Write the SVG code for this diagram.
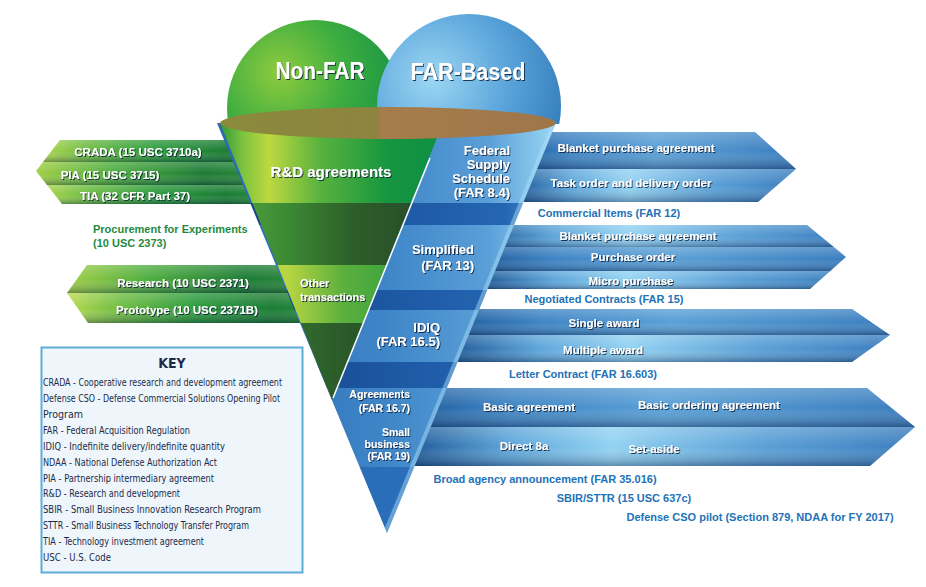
<svg xmlns="http://www.w3.org/2000/svg" width="926" height="587" viewBox="0 0 926 587">
<defs>
<style>
.w{font-family:"Liberation Sans",Arial,sans-serif;font-weight:bold;fill:#fff;filter:url(#sh)}
.bl{font-family:"Liberation Sans",Arial,sans-serif;font-weight:bold;fill:#2272b8;font-size:11px;text-anchor:middle}
.gr{font-family:"Liberation Sans",Arial,sans-serif;font-weight:bold;fill:#1f8a3e;font-size:11px}
.k{font-family:"Liberation Sans Narrow","DejaVu Sans Condensed","Liberation Sans",sans-serif;fill:#1d2a48;font-size:11px}
.kt{font-family:"Liberation Sans Narrow","DejaVu Sans Condensed","Liberation Sans",sans-serif;fill:#1d2a48;font-size:14px;font-weight:bold;text-anchor:middle}
.m{text-anchor:middle}
.e{text-anchor:end}
</style>
<filter id="sh" x="-10%" y="-30%" width="120%" height="160%">
<feDropShadow dx="1" dy="1" stdDeviation="0.7" flood-color="#0b2238" flood-opacity="0.85"/>
</filter>
<radialGradient id="gDome" cx="0.3" cy="0.3" r="0.8">
<stop offset="0" stop-color="#8fcb3e"/><stop offset="0.45" stop-color="#3fae40"/><stop offset="1" stop-color="#0d8c45"/>
</radialGradient>
<radialGradient id="bDome" cx="0.3" cy="0.35" r="0.8">
<stop offset="0" stop-color="#9cd6f3"/><stop offset="0.5" stop-color="#5ca6dc"/><stop offset="1" stop-color="#2f78b8"/>
</radialGradient>
<linearGradient id="disc" x1="0" y1="0" x2="1" y2="0">
<stop offset="0" stop-color="#8a8a3c"/><stop offset="0.47" stop-color="#8e8440"/><stop offset="0.48" stop-color="#a67c4c"/><stop offset="1" stop-color="#9e7648"/>
</linearGradient>
<linearGradient id="gTop" gradientUnits="userSpaceOnUse" x1="220" y1="0" x2="443" y2="0">
<stop offset="0" stop-color="#2f9a3a"/><stop offset="0.1" stop-color="#7cc23e"/><stop offset="0.22" stop-color="#bcd940"/><stop offset="0.45" stop-color="#58b23e"/><stop offset="0.75" stop-color="#169640"/><stop offset="1" stop-color="#0e8f44"/>
</linearGradient>
<linearGradient id="gDark" gradientUnits="userSpaceOnUse" x1="220" y1="0" x2="443" y2="0">
<stop offset="0" stop-color="#56a83e"/><stop offset="0.3" stop-color="#3c8a34"/><stop offset="0.6" stop-color="#2d5e2a"/><stop offset="1" stop-color="#27472a"/>
</linearGradient>
<linearGradient id="gOther" gradientUnits="userSpaceOnUse" x1="220" y1="0" x2="443" y2="0">
<stop offset="0" stop-color="#9cc83e"/><stop offset="0.3" stop-color="#b9d642"/><stop offset="0.55" stop-color="#5cb03e"/><stop offset="1" stop-color="#1e963f"/>
</linearGradient>
<linearGradient id="gTip" gradientUnits="userSpaceOnUse" x1="220" y1="0" x2="443" y2="0">
<stop offset="0" stop-color="#3e8a34"/><stop offset="0.5" stop-color="#2c5e2a"/><stop offset="1" stop-color="#1f4222"/>
</linearGradient>
<linearGradient id="bSec" gradientUnits="userSpaceOnUse" x1="217" y1="0" x2="556" y2="0">
<stop offset="0" stop-color="#2a68b0"/><stop offset="0.5" stop-color="#3f86c8"/><stop offset="0.8" stop-color="#5a9fd8"/><stop offset="1" stop-color="#9ad6f4"/>
</linearGradient>
<linearGradient id="bDark" gradientUnits="userSpaceOnUse" x1="217" y1="0" x2="556" y2="0">
<stop offset="0" stop-color="#163f85"/><stop offset="0.5" stop-color="#1d57a2"/><stop offset="0.85" stop-color="#2566b2"/><stop offset="1" stop-color="#4f94d0"/>
</linearGradient>
<linearGradient id="rUp" x1="0" y1="0" x2="1" y2="0">
<stop offset="0" stop-color="#1f5c9c"/><stop offset="0.2" stop-color="#3e84c4"/><stop offset="0.5" stop-color="#5aa0d6"/><stop offset="1" stop-color="#3a7dbe"/>
</linearGradient>
<linearGradient id="rLow" x1="0" y1="0" x2="1" y2="0">
<stop offset="0" stop-color="#1d5896"/><stop offset="0.2" stop-color="#5ea6da"/><stop offset="0.4" stop-color="#92d2f2"/><stop offset="0.7" stop-color="#5a9fd6"/><stop offset="1" stop-color="#3a7dbe"/>
</linearGradient>
<linearGradient id="gBar" x1="0" y1="0" x2="1" y2="0">
<stop offset="0" stop-color="#c2dd52"/><stop offset="0.25" stop-color="#6cbc42"/><stop offset="0.55" stop-color="#2a9a3c"/><stop offset="0.85" stop-color="#1b7c34"/><stop offset="1" stop-color="#23883a"/>
</linearGradient>
<linearGradient id="gBar2" x1="0" y1="0" x2="1" y2="0">
<stop offset="0" stop-color="#a8d246"/><stop offset="0.35" stop-color="#4fae40"/><stop offset="0.75" stop-color="#1d7c35"/><stop offset="1" stop-color="#2a8a38"/>
</linearGradient>
<linearGradient id="shade" x1="0" y1="0" x2="0" y2="1">
<stop offset="0" stop-color="#fff" stop-opacity="0.22"/><stop offset="0.5" stop-color="#fff" stop-opacity="0"/><stop offset="1" stop-color="#001030" stop-opacity="0.35"/>
</linearGradient>
<clipPath id="cA1"><path d="M440,132 H755 L796,169 L758,202 H440 Z"/></clipPath>
<clipPath id="cA2"><path d="M420,225 H807 L846,257 L810,289 H420 Z"/></clipPath>
<clipPath id="cA3"><path d="M420,309 H852 L890,335 L852,362 H420 Z"/></clipPath>
<clipPath id="cA4"><path d="M390,388 H867 L915,427 L870,466 H390 Z"/></clipPath>
<clipPath id="cL1"><path d="M260,140 H60 L36,171 L62,204 H260 Z"/></clipPath>
<clipPath id="cL2"><path d="M308,265 H87 L67,293 L88,323 H308 Z"/></clipPath>
<clipPath id="cBlue"><polygon points="217,123 556,123 387,533"/></clipPath>
<clipPath id="cGreen"><polygon points="220,123 443,123 332,400"/></clipPath>
<clipPath id="cAbove"><rect x="0" y="0" width="926" height="124"/></clipPath>
</defs>
<rect width="926" height="587" fill="#fff"/>

<g id="connectors">
<g id="arrow-fss" clip-path="url(#cA1)">
<rect x="515" y="132" width="285" height="37" fill="url(#rUp)"/><rect x="515" y="132" width="285" height="37" fill="url(#shade)"/>
<rect x="515" y="169" width="285" height="33" fill="url(#rLow)"/><rect x="515" y="169" width="285" height="33" fill="url(#shade)"/>
</g>
<g id="arrow-simplified" clip-path="url(#cA2)">
<rect x="480" y="225" width="370" height="22" fill="url(#rLow)"/><rect x="480" y="225" width="370" height="22" fill="url(#shade)"/>
<rect x="480" y="247" width="370" height="24" fill="url(#rUp)"/><rect x="480" y="247" width="370" height="24" fill="url(#shade)"/>
<rect x="480" y="271" width="370" height="18" fill="url(#rLow)"/><rect x="480" y="271" width="370" height="18" fill="url(#shade)"/>
</g>
<g id="arrow-idiq" clip-path="url(#cA3)">
<rect x="450" y="309" width="445" height="26" fill="url(#rUp)"/><rect x="450" y="309" width="445" height="26" fill="url(#shade)"/>
<rect x="450" y="335" width="445" height="27" fill="url(#rLow)"/><rect x="450" y="335" width="445" height="27" fill="url(#shade)"/>
</g>
<g id="arrow-agreements" clip-path="url(#cA4)">
<rect x="408" y="388" width="510" height="39" fill="url(#rUp)"/><rect x="408" y="388" width="510" height="39" fill="url(#shade)"/>
<rect x="408" y="427" width="510" height="39" fill="url(#rLow)"/><rect x="408" y="427" width="510" height="39" fill="url(#shade)"/>
</g>
<g id="arrow-rd" clip-path="url(#cL1)">
<rect x="30" y="140" width="230" height="22" fill="url(#gBar)"/><rect x="30" y="140" width="230" height="22" fill="url(#shade)"/>
<rect x="30" y="162" width="230" height="23" fill="url(#gBar2)"/><rect x="30" y="162" width="230" height="23" fill="url(#shade)"/>
<rect x="30" y="185" width="230" height="19" fill="url(#gBar)"/><rect x="30" y="185" width="230" height="19" fill="url(#shade)"/>
</g>
<g id="arrow-ot" clip-path="url(#cL2)">
<rect x="60" y="265" width="248" height="28" fill="url(#gBar2)"/><rect x="60" y="265" width="248" height="28" fill="url(#shade)"/>
<rect x="60" y="293" width="248" height="30" fill="url(#gBar)"/><rect x="60" y="293" width="248" height="30" fill="url(#shade)"/>
</g>
</g>

<g id="domes" clip-path="url(#cAbove)">
<circle id="dome-nonfar" cx="315" cy="108" r="88" fill="url(#gDome)"/>
<circle id="dome-far" cx="469" cy="106" r="92" fill="url(#bDome)"/>
</g>

<g id="funnel-far" clip-path="url(#cBlue)">
<rect x="200" y="100" width="380" height="103" fill="url(#bSec)"/>
<rect x="200" y="203" width="380" height="22" fill="url(#bDark)"/>
<rect x="200" y="225" width="380" height="65" fill="url(#bSec)"/>
<rect x="200" y="290" width="380" height="20" fill="url(#bDark)"/>
<rect x="200" y="310" width="380" height="52" fill="url(#bSec)"/>
<rect x="200" y="362" width="380" height="26" fill="url(#bDark)"/>
<rect x="200" y="388" width="380" height="40" fill="url(#bSec)"/>
<rect x="200" y="428" width="380" height="39" fill="url(#bSec)"/>
<rect x="200" y="467" width="380" height="70" fill="#2a6db8"/>
<line x1="556" y1="123" x2="387" y2="533" stroke="#b0e2f8" stroke-width="8" opacity="0.45"/>
</g>

<g id="funnel-nonfar" clip-path="url(#cGreen)">
<rect x="200" y="100" width="260" height="103" fill="url(#gTop)"/>
<rect x="200" y="203" width="260" height="62" fill="url(#gDark)"/>
<rect x="200" y="265" width="260" height="58" fill="url(#gOther)"/>
<rect x="200" y="323" width="260" height="80" fill="url(#gTip)"/>
</g>
<line x1="430" y1="158" x2="333" y2="398" stroke="#fff" stroke-width="1.5"/>

<ellipse id="rim" cx="388" cy="123" rx="168" ry="16" fill="url(#disc)"/>

<g id="node-nonfar"><text class="w m" x="320" y="79" font-size="23" textLength="89" lengthAdjust="spacingAndGlyphs">Non-FAR</text></g>
<g id="node-farbased"><text class="w m" x="468" y="80" font-size="23" textLength="115" lengthAdjust="spacingAndGlyphs">FAR-Based</text></g>

<g id="node-rd"><text class="w m" x="331" y="177" font-size="15">R&amp;D agreements</text></g>
<g id="node-crada"><text class="w m" x="138" y="156" font-size="11.5">CRADA (15 USC 3710a)</text></g>
<g id="node-pia"><text class="w m" x="110" y="179" font-size="11.5">PIA (15 USC 3715)</text></g>
<g id="node-tia"><text class="w m" x="135" y="200" font-size="11.5">TIA (32 CFR Part 37)</text></g>
<g id="node-procurement"><text class="gr" x="93" y="233">Procurement for Experiments</text><text class="gr" x="93" y="247">(10 USC 2373)</text></g>
<g id="node-ot"><text class="w" x="300" y="287" font-size="11">Other</text><text class="w" x="300" y="301" font-size="11">transactions</text></g>
<g id="node-research"><text class="w m" x="183" y="287" font-size="11.5">Research (10 USC 2371)</text></g>
<g id="node-prototype"><text class="w m" x="187" y="314" font-size="11.5">Prototype (10 USC 2371B)</text></g>

<g id="node-fss"><text class="w e" font-size="13" x="510" y="155">Federal</text><text class="w e" font-size="13" x="510" y="169">Supply</text><text class="w e" font-size="13" x="510" y="183">Schedule</text><text class="w e" font-size="13" x="510" y="197">(FAR 8.4)</text></g>
<g id="node-fss-bpa"><text class="w m" font-size="11.5" x="636" y="152">Blanket purchase agreement</text></g>
<g id="node-fss-task"><text class="w m" font-size="11.5" x="631" y="187">Task order and delivery order</text></g>
<g id="node-commercial"><text class="bl" x="609" y="217">Commercial Items (FAR 12)</text></g>

<g id="node-simplified"><text class="w e" font-size="13" x="474" y="254">Simplified</text><text class="w e" font-size="13" x="474" y="270">(FAR 13)</text></g>
<g id="node-simp-bpa"><text class="w m" font-size="11.5" x="638" y="240">Blanket purchase agreement</text></g>
<g id="node-po"><text class="w m" font-size="11.5" x="633" y="261">Purchase order</text></g>
<g id="node-micro"><text class="w m" font-size="11.5" x="631" y="285">Micro purchase</text></g>
<g id="node-negotiated"><text class="bl" x="604" y="303">Negotiated Contracts (FAR 15)</text></g>

<g id="node-idiq"><text class="w e" font-size="13" x="440" y="332">IDIQ</text><text class="w e" font-size="13" x="440" y="346">(FAR 16.5)</text></g>
<g id="node-single"><text class="w m" font-size="11.5" x="604" y="327">Single award</text></g>
<g id="node-multiple"><text class="w m" font-size="11.5" x="603" y="354">Multiple award</text></g>
<g id="node-letter"><text class="bl" x="583" y="378">Letter Contract (FAR 16.603)</text></g>

<g id="node-agreements"><text class="w e" font-size="10.5" x="410" y="398">Agreements</text><text class="w e" font-size="10.5" x="410" y="411.5">(FAR 16.7)</text></g>
<g id="node-basic"><text class="w m" font-size="11.5" x="529" y="411">Basic agreement</text></g>
<g id="node-boa"><text class="w m" font-size="11.5" x="709" y="409">Basic ordering agreement</text></g>
<g id="node-small"><text class="w e" font-size="10.5" x="410" y="436">Small</text><text class="w e" font-size="10.5" x="410" y="448">business</text><text class="w e" font-size="10.5" x="410" y="460">(FAR 19)</text></g>
<g id="node-8a"><text class="w m" font-size="11.5" x="524" y="450">Direct 8a</text></g>
<g id="node-setaside"><text class="w m" font-size="11.5" x="654" y="453">Set-aside</text></g>

<g id="node-baa"><text class="bl" x="545" y="483">Broad agency announcement (FAR 35.016)</text></g>
<g id="node-sbir"><text class="bl" x="624" y="502">SBIR/STTR (15 USC 637c)</text></g>
<g id="node-cso"><text class="bl" x="760" y="521">Defense CSO pilot (Section 879, NDAA for FY 2017)</text></g>

<g id="key">
<rect x="41.5" y="347.5" width="261" height="225" fill="#eef6fb" stroke="#5aaed8" stroke-width="2"/>
<text class="kt" x="172" y="368">KEY</text>
<text class="k" x="43" y="386" textLength="239" lengthAdjust="spacingAndGlyphs">CRADA - Cooperative research and development agreement</text>
<text class="k" x="43" y="402" textLength="237" lengthAdjust="spacingAndGlyphs">Defense CSO - Defense Commercial Solutions Opening Pilot</text>
<text class="k" x="43" y="418" textLength="40" lengthAdjust="spacingAndGlyphs">Program</text>
<text class="k" x="43" y="434" textLength="147" lengthAdjust="spacingAndGlyphs">FAR - Federal Acquisition Regulation</text>
<text class="k" x="43" y="450" textLength="182" lengthAdjust="spacingAndGlyphs">IDIQ - Indefinite delivery/indefinite quantity</text>
<text class="k" x="43" y="466" textLength="174" lengthAdjust="spacingAndGlyphs">NDAA - National Defense Authorization Act</text>
<text class="k" x="43" y="482" textLength="171" lengthAdjust="spacingAndGlyphs">PIA - Partnership intermediary agreement</text>
<text class="k" x="43" y="497" textLength="137" lengthAdjust="spacingAndGlyphs">R&amp;D - Research and development</text>
<text class="k" x="43" y="513" textLength="218" lengthAdjust="spacingAndGlyphs">SBIR - Small Business Innovation Research Program</text>
<text class="k" x="43" y="529" textLength="206" lengthAdjust="spacingAndGlyphs">STTR - Small Business Technology Transfer Program</text>
<text class="k" x="43" y="545" textLength="161" lengthAdjust="spacingAndGlyphs">TIA - Technology investment agreement</text>
<text class="k" x="43" y="561" textLength="68" lengthAdjust="spacingAndGlyphs">USC - U.S. Code</text>
</g>
</svg>
